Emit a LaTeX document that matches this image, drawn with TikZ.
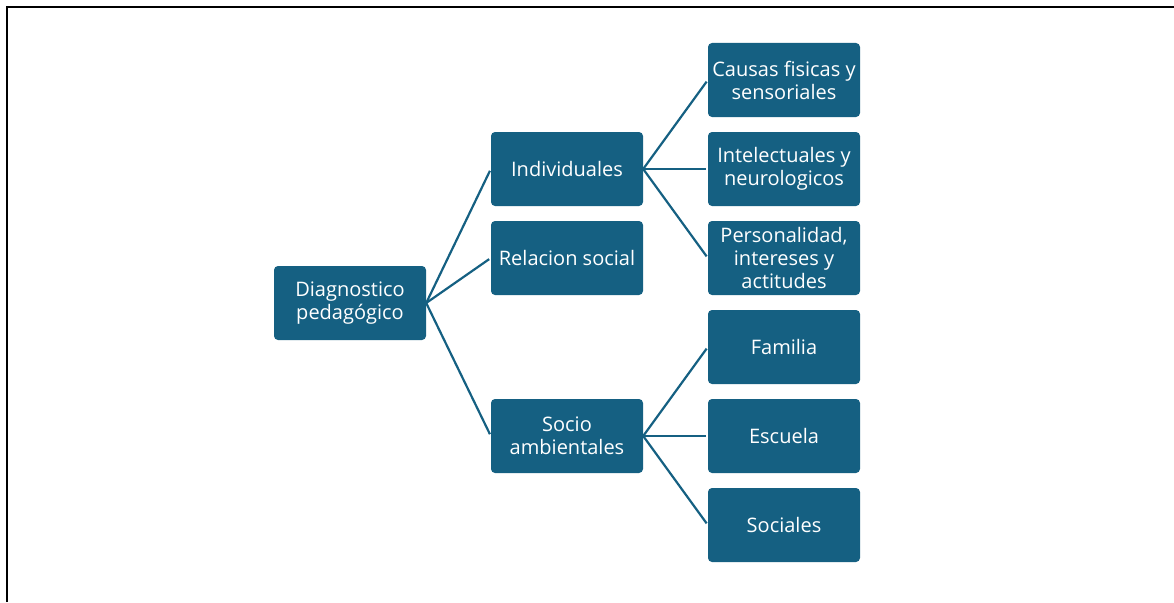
\documentclass[tikz,border=0pt]{standalone}
\usepackage{fontspec}
\setmainfont{Open Sans}
\definecolor{boxblue}{HTML}{156082}
\begin{document}
\begin{tikzpicture}[x=1pt,y=-1pt,
  box/.style={draw=none, fill=boxblue, rounded corners=4pt, minimum width=152pt,
    minimum height=74pt, inner sep=0pt, text=white, align=center,
    font=\fontsize{20}{23}\selectfont},
  conn/.style={draw=boxblue, line width=2.2pt, shorten >=2pt}]
  \useasboundingbox (0,0) rectangle (1174,602);
  % page frame (top and left rule)
  \draw[line width=2.5pt] (7,602) -- (7,7) -- (1174,7);

  % root
  \node[box] (diag) at (350,303) {Diagnostico\\pedagógico};
  % second level
  \node[box] (ind) at (567,169) {Individuales};
  \node[box] (rel) at (567,258) {Relacion social};
  \node[box] (soc) at (567,436) {Socio\\ambientales};
  % third level
  \node[box] (cau) at (784,80) {Causas fisicas y\\sensoriales};
  \node[box] (int) at (784,169) {Intelectuales y\\neurologicos};
  \node[box] (per) at (784,258) {Personalidad,\\intereses y\\actitudes};
  \node[box] (fam) at (784,347) {Familia};
  \node[box] (esc) at (784,436) {Escuela};
  \node[box] (scl) at (784,525) {Sociales};

  % connectors
  \foreach \c in {ind,rel,soc} \draw[conn] (diag.east) -- (\c.west);
  \foreach \c in {cau,int,per} \draw[conn] (ind.east) -- (\c.west);
  \foreach \c in {fam,esc,scl} \draw[conn] (soc.east) -- (\c.west);
\end{tikzpicture}
\end{document}
